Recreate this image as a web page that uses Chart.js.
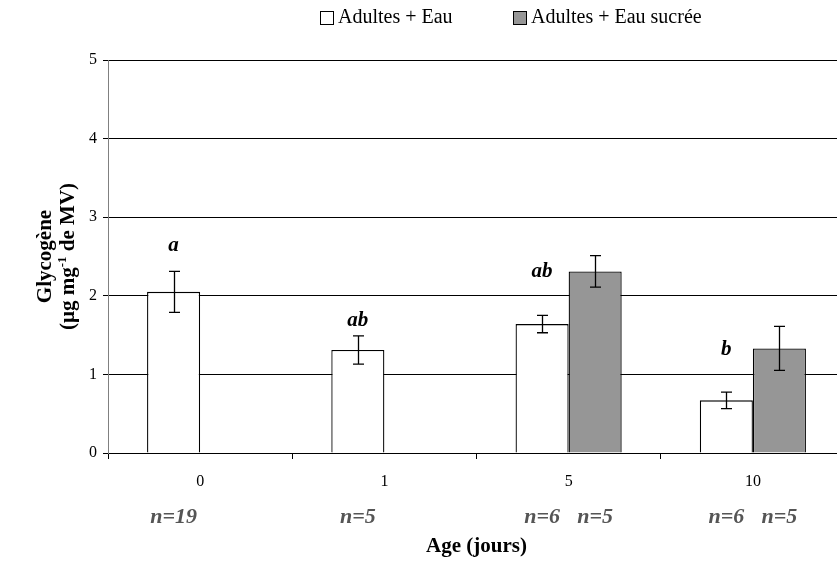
<!DOCTYPE html>
<html>
<head>
<meta charset="utf-8">
<script src="https://cdn.jsdelivr.net/npm/chart.js@4.4.0/dist/chart.umd.min.js"></script>
<style>
  body { margin: 0; overflow: hidden; background: #fff; }
  #wrap { width: 846px; height: 561px; }
</style>
</head>
<body>
<div id="wrap"><canvas id="glyco"></canvas></div>
<script>
// age groups and glycogen values
let ages = ['0', '1', '5', '10'];
let eauMeans = [2.05, 1.31, 1.64, 0.67];
let eauErr = [0.26, 0.18, 0.11, 0.105];
let sucreeMeans = [null, null, 2.31, 1.33];
let sucreeErr = [null, null, 0.2, 0.28];
let letters = ['a', 'ab', 'ab', 'b'];
let letterLevel = [2.64, 1.69, 2.31, 1.32];
let eauN = ['n=19', 'n=5', 'n=6', 'n=6'];
let sucreeN = [null, null, 'n=5', 'n=5'];
let seriesNames = ['Adultes + Eau', 'Adultes + Eau sucrée'];

let serif = '"Liberation Serif", "Times New Roman", serif';
let errors = [eauErr, sucreeErr];
let nLabels = [eauN, sucreeN];

let extras = {
    id: 'extras',
    afterDatasetsDraw(chart) {
        let ctx = chart.ctx;
        let y = chart.scales.y;
        ctx.save();
        ctx.strokeStyle = '#000';
        ctx.lineWidth = 1.3;
        chart.data.datasets.forEach((ds, d) => {
            let meta = chart.getDatasetMeta(d);
            meta.data.forEach((bar, i) => {
                if (ds.data[i] == null) return;
                let top = y.getPixelForValue(ds.data[i] + errors[d][i]);
                let bot = y.getPixelForValue(ds.data[i] - errors[d][i]);
                let x = Math.round(bar.x) + 0.5;
                ctx.beginPath();
                ctx.moveTo(x, top); ctx.lineTo(x, bot);
                ctx.moveTo(x - 5.5, top); ctx.lineTo(x + 5.5, top);
                ctx.moveTo(x - 5.5, bot); ctx.lineTo(x + 5.5, bot);
                ctx.stroke();
            });
        });
        ctx.restore();
    },
    afterDraw(chart) {
        let ctx = chart.ctx;
        let y = chart.scales.y;
        let area = chart.chartArea;
        ctx.save();

        // significance letters above the water bars
        let eauMeta = chart.getDatasetMeta(0);
        ctx.fillStyle = '#000';
        ctx.font = 'italic bold 21px ' + serif;
        ctx.textAlign = 'center';
        ctx.textBaseline = 'middle';
        letters.forEach((t, i) => {
            ctx.fillText(t, eauMeta.data[i].x, y.getPixelForValue(letterLevel[i]));
        });

        // sample sizes under each bar
        ctx.fillStyle = '#555';
        ctx.font = 'italic bold 22px ' + serif;
        nLabels.forEach((list, d) => {
            let meta = chart.getDatasetMeta(d);
            list.forEach((t, i) => {
                if (t) ctx.fillText(t, meta.data[i].x, 517);
            });
        });

        // y axis title, two lines with superscript
        ctx.fillStyle = '#000';
        ctx.translate(0, (area.top + area.bottom) / 2);
        ctx.rotate(-Math.PI / 2);
        ctx.textBaseline = 'middle';
        ctx.font = 'bold 21px ' + serif;
        ctx.textAlign = 'center';
        ctx.fillText('Glycogène', 0, 46);
        let a = '(µg mg', sup = '-1', b = ' de MV)';
        let wa = ctx.measureText(a).width, wb = ctx.measureText(b).width;
        ctx.font = 'bold 13px ' + serif;
        let ws = ctx.measureText(sup).width;
        let x0 = -(wa + ws + wb) / 2;
        ctx.textAlign = 'left';
        ctx.font = 'bold 21px ' + serif;
        ctx.fillText(a, x0, 69);
        ctx.fillText(b, x0 + wa + ws, 69);
        ctx.font = 'bold 13px ' + serif;
        ctx.fillText(sup, x0 + wa, 63);
        ctx.restore();

        // legend
        ctx.save();
        ctx.font = '20px ' + serif;
        ctx.textBaseline = 'middle';
        let legX = [320, 513];
        chart.data.datasets.forEach((ds, d) => {
            ctx.fillStyle = ds.backgroundColor;
            ctx.fillRect(legX[d] + 0.5, 11.5, 13, 13);
            ctx.strokeStyle = '#000';
            ctx.lineWidth = 1;
            ctx.strokeRect(legX[d] + 0.5, 11.5, 13, 13);
            ctx.fillStyle = '#000';
            ctx.fillText(seriesNames[d], legX[d] + 18, 18);
        });
        ctx.restore();
    }
};

new Chart(document.getElementById('glyco'), {
    type: 'bar',
    data: {
        labels: ages,
        datasets: [
            {
                label: seriesNames[0],
                data: eauMeans,
                backgroundColor: '#ffffff',
                borderColor: '#000',
                borderWidth: 1.3
            },
            {
                label: seriesNames[1],
                data: sucreeMeans,
                backgroundColor: '#969696',
                borderColor: '#000',
                borderWidth: 1.3
            }
        ]
    },
    plugins: [extras],
    options: {
        responsive: true,
        maintainAspectRatio: false,
        animation: false,
        layout: { padding: { top: 60, right: 1, left: 0, bottom: 0 } },
        datasets: { bar: { categoryPercentage: 0.576, barPercentage: 1.0 } },
        plugins: {
            legend: { display: false },
            tooltip: { enabled: false }
        },
        scales: {
            x: {
                afterFit(scale) { scale.height = 108; },
                grid: { offset: true, drawOnChartArea: false, color: '#000', tickLength: 6 },
                border: { color: '#000', width: 1 },
                ticks: { color: '#000', font: { family: serif, size: 16 }, padding: 13 },
                title: {
                    display: true,
                    text: 'Age (jours)',
                    color: '#000',
                    font: { family: serif, size: 21, weight: 'bold' },
                    padding: { top: 0, bottom: 2 }
                }
            },
            y: {
                min: 0,
                max: 5,
                afterFit(scale) { scale.width = 108; },
                grid: { color: '#000', lineWidth: 1, tickLength: 5 },
                border: { color: '#808080', width: 1 },
                ticks: { stepSize: 1, color: '#000', font: { family: serif, size: 16 }, padding: 6 }
            }
        }
    }
});
</script>
</body>
</html>
